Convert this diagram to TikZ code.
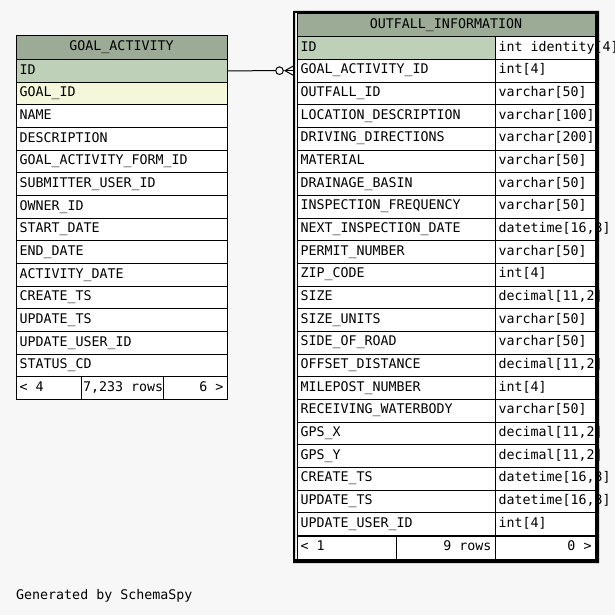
\documentclass[tikz,border=0pt]{standalone}
\usepackage{fontspec}
\setmonofont{DejaVu Sans Mono}
\usetikzlibrary{positioning}
\definecolor{hdrgreen}{HTML}{9BAB96}
\definecolor{pkgreen}{HTML}{BED1B8}
\definecolor{fkyellow}{HTML}{F4F7DA}
\definecolor{bggray}{HTML}{F7F7F7}
\begin{document}
\begin{tikzpicture}[x=1bp,y=-1bp,
  every node/.style={font=\ttfamily\fontsize{13.3bp}{16bp}\selectfont},
  cell/.style={draw,fill=white,line width=1bp,anchor=north west,inner xsep=3.5bp,inner ysep=0pt,
               outer sep=0pt,minimum height=22.67bp,align=left,
               execute at begin node={\spaceskip=0pt\xspaceskip=0pt\strut}},
  head/.style={cell,fill=hdrgreen,align=center},
  link/.style={line width=1bp}
  ]
  \fill[bggray] (0,0) rectangle (615,615);
  \useasboundingbox (0,0) rectangle (615,615);

  % GOAL_ACTIVITY
  \node[head,text width=204bp,minimum height=23.5bp] (ga-head) at (16,36) {GOAL\_ACTIVITY};
  \node[cell,text width=204bp,fill=pkgreen] (ga-0) at (16,59.5) {ID};
  \node[cell,text width=204bp,fill=fkyellow] (ga-1) at (16,82.17) {GOAL\_ID};
  \foreach \col [count=\i from 2] in {NAME,DESCRIPTION,GOAL\_ACTIVITY\_FORM\_ID,SUBMITTER\_USER\_ID,
      OWNER\_ID,START\_DATE,END\_DATE,ACTIVITY\_DATE,CREATE\_TS,UPDATE\_TS,UPDATE\_USER\_ID,STATUS\_CD}
    \node[cell,text width=204bp] (ga-\i) at (16,{59.5+\i*22.67}) {\col};
  \node[cell,text width=58bp] (ga-left) at (16,376.9) {<~4};
  \node[cell,inner xsep=2bp,text width=78bp] (ga-rows) at (81,376.9) {7,233~rows};
  \node[cell,text width=57bp,align=right] (ga-right) at (163,376.9) {6~>};

  % OUTFALL_INFORMATION
  \node[head,text width=291bp] (of-head) at (297,14) {OUTFALL\_INFORMATION};
  \node[cell,text width=191bp,fill=pkgreen] (of-1) at (297,36.67) {ID};
  \node[cell,text width=93bp] (of-1t) at (495,36.67) {int~identity[4]};
  \foreach \col/\typ [count=\i from 2] in {GOAL\_ACTIVITY\_ID/int[4],OUTFALL\_ID/varchar[50],
      LOCATION\_DESCRIPTION/varchar[100],DRIVING\_DIRECTIONS/varchar[200],MATERIAL/varchar[50],
      DRAINAGE\_BASIN/varchar[50],INSPECTION\_FREQUENCY/varchar[50],NEXT\_INSPECTION\_DATE/{datetime[16,3]},
      PERMIT\_NUMBER/varchar[50],ZIP\_CODE/int[4],SIZE/{decimal[11,2]},SIZE\_UNITS/varchar[50],
      SIDE\_OF\_ROAD/varchar[50],OFFSET\_DISTANCE/{decimal[11,2]},MILEPOST\_NUMBER/int[4],
      RECEIVING\_WATERBODY/varchar[50],GPS\_X/{decimal[11,2]},GPS\_Y/{decimal[11,2]},
      CREATE\_TS/{datetime[16,3]},UPDATE\_TS/{datetime[16,3]},UPDATE\_USER\_ID/int[4]}
  {
    \node[cell,text width=191bp] (of-\i) at (297,{36.67+(\i-1)*22.67}) {\col};
    \node[cell,text width=93bp] (of-\i t) at (495,{36.67+(\i-1)*22.67}) {\typ};
  }
  \node[cell,text width=92bp] (of-left) at (297,536.4) {<~1};
  \node[cell,text width=92bp,align=right] (of-rows) at (396,536.4) {9~rows};
  \node[cell,text width=93bp,align=right] (of-right) at (495,536.4) {0~>};
  % heavy frame
  \fill[black,even odd rule] (293,11) rectangle (599,563) (295,13) rectangle (595,559);

  % relationship
  \draw[link] (ga-0.east) -- ([xshift=-21.3bp]of-2.west);
  \draw[link] ([xshift=-17.5bp]of-2.west) circle[radius=3.8bp];
  \draw[link] ([xshift=-4bp,yshift=4.5bp]of-2.west) -- ([xshift=-12bp]of-2.west)
    -- ([xshift=-4bp,yshift=-4.5bp]of-2.west);
  \draw[link] ([xshift=-12bp]of-2.west) -- ([xshift=-4bp]of-2.west);

  \node[anchor=west,inner sep=0pt] (credit) at (16,596) {Generated by SchemaSpy};
\end{tikzpicture}
\end{document}
